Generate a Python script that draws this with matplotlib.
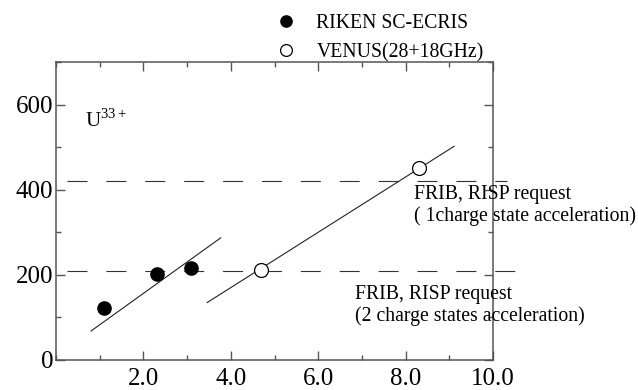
import matplotlib.pyplot as plt
from matplotlib.ticker import MultipleLocator, FixedFormatter, FixedLocator

plt.rcParams["font.family"] = ["Liberation Serif", "DejaVu Serif"]
plt.rcParams["mathtext.fontset"] = "custom"
plt.rcParams["mathtext.rm"] = "Liberation Serif"

# Measured points
riken_x = [1.1, 2.3, 3.1]
riken_y = [123, 203, 215]
venus_x = [4.7, 8.3]
venus_y = [211, 451]

# Hand drawn trend lines
riken_fit_x = [0.8, 3.77]
riken_fit_y = [68, 287]
venus_fit_x = [3.46, 9.11]
venus_fit_y = [135, 502]

# FRIB / RISP request levels
request_1cs = 420
request_2cs = 210

x_ticks = [2.0, 4.0, 6.0, 8.0, 10.0]
x_tick_labels = ["2.0", "4.0", "6.0", "8.0", "10.0"]
y_ticks = [0, 200, 400, 600]
y_tick_labels = ["0", "200", "400", "600"]

fig = plt.figure(figsize=(6.38, 3.9), dpi=100)
ax = fig.add_axes([56 / 638, 1 - 360 / 390, (493 - 56) / 638, (360 - 62) / 390])

ax.set_xlim(0, 10)
ax.set_ylim(0, 700)

# dashed request levels (run a little past the right spine)
dash = (0, (18, 17))
ax.plot([0.25, 10.33], [request_1cs, request_1cs], color="#333333", lw=0.8,
        linestyle=dash, clip_on=False)
ax.plot([0.25, 10.68], [request_2cs, request_2cs], color="#333333", lw=0.8,
        linestyle=dash, clip_on=False)

ax.plot(riken_fit_x, riken_fit_y, color="#222222", lw=0.8)
ax.plot(venus_fit_x, venus_fit_y, color="#222222", lw=0.8)

ax.plot(riken_x, riken_y, "o", color="black", markersize=9.5, zorder=3,
        label="RIKEN SC-ECRIS", linestyle="none")
ax.plot(venus_x, venus_y, "o", markerfacecolor="white", markeredgecolor="black",
        markeredgewidth=0.9, markersize=10, zorder=3,
        label="VENUS(28+18GHz)", linestyle="none")

ax.text(0.66, 548, r"U$^{\mathrm{33+}}$", fontsize=15, va="baseline", ha="left")
ax.text(8.2, 411, "FRIB, RISP request\n( 1charge state acceleration)",
        fontsize=14.2, va="top", ha="left", linespacing=1.15, clip_on=False)
ax.text(6.84, 177, "FRIB, RISP request\n(2 charge states acceleration)",
        fontsize=14.2, va="top", ha="left", linespacing=1.15, clip_on=False)

ax.xaxis.set_major_locator(FixedLocator(x_ticks))
ax.xaxis.set_major_formatter(FixedFormatter(x_tick_labels))
ax.xaxis.set_minor_locator(MultipleLocator(1))
ax.yaxis.set_major_locator(FixedLocator(y_ticks))
ax.yaxis.set_major_formatter(FixedFormatter(y_tick_labels))
ax.yaxis.set_minor_locator(MultipleLocator(100))

ax.tick_params(which="both", direction="in", top=True, right=True,
               color="#555555", width=1.0)
ax.tick_params(which="major", length=6.5, labelsize=18)
ax.tick_params(which="minor", length=3.6)
ax.tick_params(axis="x", pad=5.5)
ax.tick_params(axis="y", pad=2)

for spine in ax.spines.values():
    spine.set_color("#555555")
    spine.set_linewidth(1.1)

ax.legend(loc="upper left", bbox_to_anchor=(281 / 638, 1 - 14 / 390),
          bbox_transform=fig.transFigure, frameon=False, fontsize=14.2,
          handlelength=0.5, handletextpad=1.3, labelspacing=0.5,
          borderpad=0, borderaxespad=0, markerscale=0.85)

fig.savefig("out.png", dpi=100)
